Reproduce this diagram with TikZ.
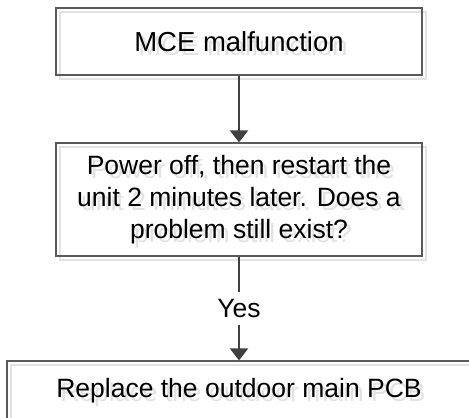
\documentclass[tikz,border=0pt]{standalone}
\usepackage{fontspec}
\setmainfont{Liberation Sans}
\usetikzlibrary{arrows.meta}
\definecolor{boxc}{HTML}{5A5A5A}
\definecolor{shadc}{HTML}{E2E2E2}
\definecolor{arrc}{HTML}{404040}
\begin{document}
\begin{tikzpicture}[x=1pt,y=-1pt,
  txt/.style={font=\fontsize{26.5}{32}\selectfont},
  bigtxt/.style={font=\fontsize{27.5}{32}\selectfont},
  box/.style={txt, draw=boxc, line width=1.2pt, align=center, inner sep=0pt},
  shad/.style={box, draw=shadc, text=shadc},
  arr/.style={draw=arrc, line width=2.3pt, -{Triangle[length=12pt,width=18pt]}}]
\useasboundingbox (0,0) rectangle (469,418);
\clip (0,0) rectangle (469,418);
% shadows
\begin{scope}[shift={(4,4)}]
  \node[shad, bigtxt, minimum width=366pt, minimum height=67pt] (stop) at (239,41.5) {MCE malfunction};
  \node[shad, minimum width=366pt, minimum height=113pt] (smid) at (239,199.5) {Power off, then restart the\\unit 2 minutes later. Does a\\problem still exist?};
  \node[shad, minimum width=464pt, minimum height=60pt] (sbot) at (239,391) {Replace the outdoor main PCB};
\end{scope}
% boxes
\node[box, bigtxt, minimum width=366pt, minimum height=67pt] (top) at (239,41.5) {MCE malfunction};
\node[box, minimum width=366pt, minimum height=113pt] (mid) at (239,199.5) {Power off, then restart the\\unit 2 minutes later. Does a\\problem still exist?};
\node[box, minimum width=464pt, minimum height=60pt] (bot) at (239,391) {Replace the outdoor main PCB};
% connectors
\draw[arr] (top.south) -- (mid.north);
\draw[arr] (mid.south) -- node[txt, fill=white, inner sep=0pt, minimum height=33pt, minimum width=50pt] (yes) {Yes} (bot.north);
\end{tikzpicture}
\end{document}
